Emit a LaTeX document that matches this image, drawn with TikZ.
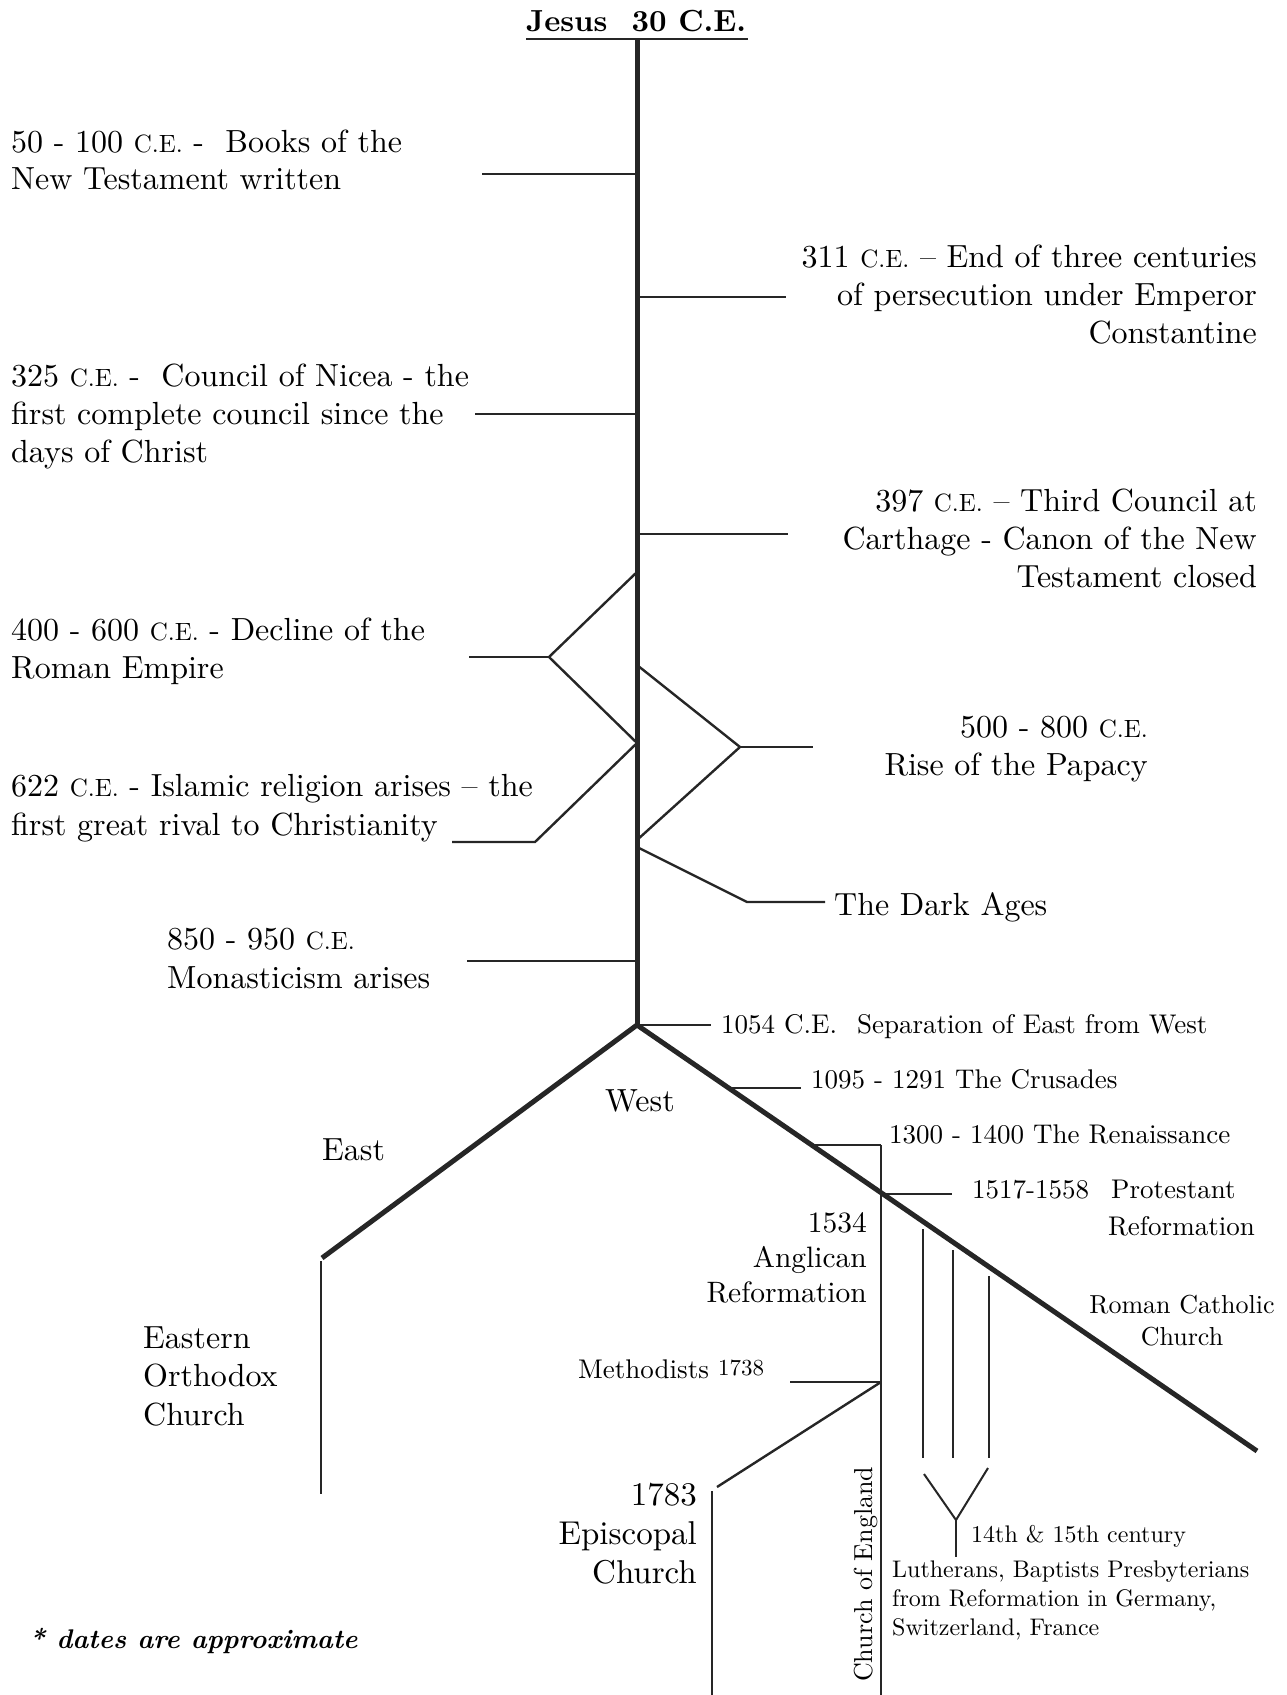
\documentclass[tikz,border=0pt]{standalone}
\usepackage{fontspec}
\setmainfont{lmroman10}[Extension=.otf, UprightFont=*-regular, BoldFont=*-bold, ItalicFont=*-italic, BoldItalicFont=*-bolditalic]
\usetikzlibrary{positioning}
\newcommand{\ce}{{\fontsize{25}{30}\selectfont C.E.}}

\begin{document}
\begin{tikzpicture}[x=1pt, y=-1pt,
  trunk/.style={draw=black!85, line width=5pt},
  twig/.style={draw=black!85, line width=2.4pt},
  slim/.style={draw=black!85, line width=2pt},
  tag/.style={inner sep=0pt, font=\fontsize{32}{38}\selectfont},
  tagmid/.style={inner sep=0pt, font=\fontsize{27}{32}\selectfont},
  tagsml/.style={inner sep=0pt, font=\fontsize{24}{29}\selectfont}]

  \useasboundingbox (0,0) rectangle (1287,1695);

  % Title
  \node[inner sep=0pt, anchor=base west, font=\fontsize{30.5}{34}\selectfont\bfseries] (J0) at (526,31) {Jesus\hspace{24pt}30 C.E.};
  \node[coordinate] (U1) at (526,39) {};
  \node[coordinate] (U2) at (748,39) {};
  \draw[twig] (U1) -- (U2);

  % Trunk
  \node[coordinate] (T0) at (637,39) {};
  \node[coordinate] (S0) at (637,1025) {};
  \draw[trunk] (T0) -- (S0);

  % Ticks on the trunk
  \node[coordinate] (A1) at (637,174) {};
  \node[coordinate] (K1) at (482,174) {};
  \node[coordinate] (B1) at (637,297) {};
  \node[coordinate] (G1) at (786,297) {};
  \node[coordinate] (A2) at (637,414) {};
  \node[coordinate] (K2) at (475,414) {};
  \node[coordinate] (B2) at (637,534) {};
  \node[coordinate] (G2) at (788,534) {};
  \node[coordinate] (A3) at (637,961) {};
  \node[coordinate] (K3) at (467,961) {};
  \draw[twig] (A1) -- (K1);
  \draw[twig] (B1) -- (G1);
  \draw[twig] (A2) -- (K2);
  \draw[twig] (B2) -- (G2);
  \draw[twig] (A3) -- (K3);

  % Chevrons
  \node[coordinate] (R1) at (637,572) {};
  \node[coordinate] (R2) at (549,657) {};
  \node[coordinate] (R3) at (637,743) {};
  \node[coordinate] (R4) at (469,657) {};
  \node[coordinate] (I2) at (535,842) {};
  \node[coordinate] (I3) at (452,842) {};
  \node[coordinate] (P1) at (637,665) {};
  \node[coordinate] (P2) at (740,747) {};
  \node[coordinate] (P3) at (637,840) {};
  \node[coordinate] (P4) at (813,747) {};
  \node[coordinate] (D1) at (637,847) {};
  \node[coordinate] (D2) at (747,902) {};
  \node[coordinate] (D3) at (825,902) {};
  \draw[twig] (R1) -- (R2) -- (R3);
  \draw[twig] (R2) -- (R4);
  \draw[twig] (R3) -- (I2) -- (I3);
  \draw[twig] (P1) -- (P2) -- (P3);
  \draw[twig] (P2) -- (P4);
  \draw[twig] (D1) -- (D2) -- (D3);

  % Left labels (base = last line)
  \node[tag, anchor=base west, align=left, font=\fontsize{32}{37}\selectfont] (L1) at (11,189) {50 - 100 \ce{} - \ Books of the\\New Testament written};
  \node[tag, anchor=base west, align=left] (L2) at (11,462) {325 \ce{} - \ Council of Nicea - the\\first complete council since the\\days of Christ};
  \node[tag, anchor=base west, align=left] (L3) at (11,678) {400 - 600 \ce{} - Decline of the\\Roman Empire};
  \node[tag, anchor=base west, align=left, font=\fontsize{32}{39}\selectfont] (L4) at (11,835) {622 \ce{} - Islamic religion arises \textendash{} the\\first great rival to Christianity};
  \node[tag, anchor=base west, align=left, font=\fontsize{32}{39}\selectfont] (L5) at (167,988) {850 - 950 \ce\\Monasticism arises};

  % Right labels
  \node[tag, anchor=base east, align=right] (M1) at (1257,343) {311 \ce{} \textendash{} End of three centuries\\of persecution under Emperor\\Constantine};
  \node[tag, anchor=base east, align=right] (M2) at (1257,587) {397 \ce{} \textendash{} Third Council at\\Carthage - Canon of the New\\Testament closed};
  \node[tag, anchor=base east, align=right] (M3) at (1148,775) {500 - 800 \ce\\Rise of the Papacy};
  \node[tag, base right=9pt of D3, yshift=-13pt] (M4) {The Dark Ages};

  % Split
  \node[coordinate] (S1) at (711,1025) {};
  \node[coordinate] (E1) at (322,1258) {};
  \node[coordinate] (E2) at (321,1261) {};
  \node[coordinate] (E3) at (321,1494) {};
  \node[coordinate] (W1) at (1257,1451) {};
  \draw[twig] (S0) -- (S1);
  \draw[trunk] (S0) -- (E1);
  \draw[trunk] (S0) -- (W1);
  \draw[slim] (E2) -- (E3);
  \node[tagmid, base right=10pt of S1, yshift=-8pt] (N0) {1054 C.E.\hspace{20pt}Separation of East from West};
  \node[tag, anchor=base west] (N1) at (322,1160) {East};
  \node[tag, anchor=base west] (N2) at (605,1111) {West};
  \node[tag, anchor=base west, align=left, font=\fontsize{32}{38.5}\selectfont] (N3) at (143,1425) {Eastern\\Orthodox\\Church};

  % Ticks on the West branch
  \node[coordinate] (C1) at (728,1088) {};
  \node[coordinate] (C2) at (801,1088) {};
  \node[coordinate] (C3) at (811,1145) {};
  \node[coordinate] (C4) at (881,1145) {};
  \node[coordinate] (C5) at (881,1695) {};
  \node[coordinate] (C6) at (881,1194) {};
  \node[coordinate] (C7) at (952,1194) {};
  \draw[twig] (C1) -- (C2);
  \draw[twig] (C3) -- (C4);
  \draw[slim] (C4) -- (C5);
  \draw[twig] (C6) -- (C7);
  \node[tagmid, base right=10pt of C2] (O1) {1095 - 1291 The Crusades};
  \node[tagmid, base right=8pt of C4, yshift=2pt] (O2) {1300 - 1400 The Renaissance};
  \node[tagmid, base right=20pt of C7, yshift=-4pt] (O3) {1517-1558\hspace{22pt}Protestant};
  \node[tagmid, anchor=base east] (O4) at (1255,1235) {Reformation};
  \node[tagmid, anchor=base, align=center, font=\fontsize{26}{32}\selectfont] (O5) at (1182,1345) {Roman Catholic\\Church};

  % Protestant lines
  \node[coordinate] (V1) at (923,1229) {};
  \node[coordinate] (V2) at (953,1250) {};
  \node[coordinate] (V3) at (989,1276) {};
  \node[coordinate] (H1) at (923,1458) {};
  \node[coordinate] (H2) at (953,1458) {};
  \node[coordinate] (H3) at (989,1458) {};
  \draw[slim] (V1) -- (H1);
  \draw[slim] (V2) -- (H2);
  \draw[slim] (V3) -- (H3);
  \node[coordinate] (Y1) at (924,1474) {};
  \node[coordinate] (Y0) at (956,1520) {};
  \node[coordinate] (Y2) at (988,1468) {};
  \node[coordinate] (Y3) at (956,1557) {};
  \draw[slim] (Y1) -- (Y0) -- (Y2);
  \draw[slim] (Y0) -- (Y3);
  \node[tagsml, anchor=base west] (Q1) at (971,1542) {14th \& 15th century};
  \node[tagsml, anchor=base west, align=left] (Q2) at (892,1635) {Lutherans, Baptists Presbyterians\\from Reformation in Germany,\\Switzerland, France};

  % Anglican side
  \node[tag, anchor=base east, align=right, font=\fontsize{29.5}{35}\selectfont] (F1) at (867,1302) {1534\\Anglican\\Reformation};
  \node[coordinate] (F2) at (790,1382) {};
  \node[coordinate] (F3) at (881,1382) {};
  \node[coordinate] (F4) at (717,1487) {};
  \node[coordinate] (F5) at (712,1491) {};
  \node[coordinate] (F6) at (712,1695) {};
  \draw[twig] (F2) -- (F3);
  \draw[twig] (F3) -- (F4);
  \draw[slim] (F5) -- (F6);
  \node[tagmid, anchor=base west] (F7) at (578,1378) {Methodists {\fontsize{23}{27}\selectfont\raisebox{3pt}{1738}}};
  \node[tag, anchor=base east, align=right, font=\fontsize{33}{39}\selectfont] (F8) at (697,1583) {1783\\Episcopal\\Church};
  \node[tagmid, rotate=90, anchor=base west, font=\fontsize{26}{30}\selectfont] (F9) at (872,1682) {Church of England};

  % Note
  \node[tagmid, anchor=base west, font=\fontsize{27}{32}\selectfont\bfseries\itshape] (Z1) at (29,1648) {* dates are approximate};

\end{tikzpicture}
\end{document}
